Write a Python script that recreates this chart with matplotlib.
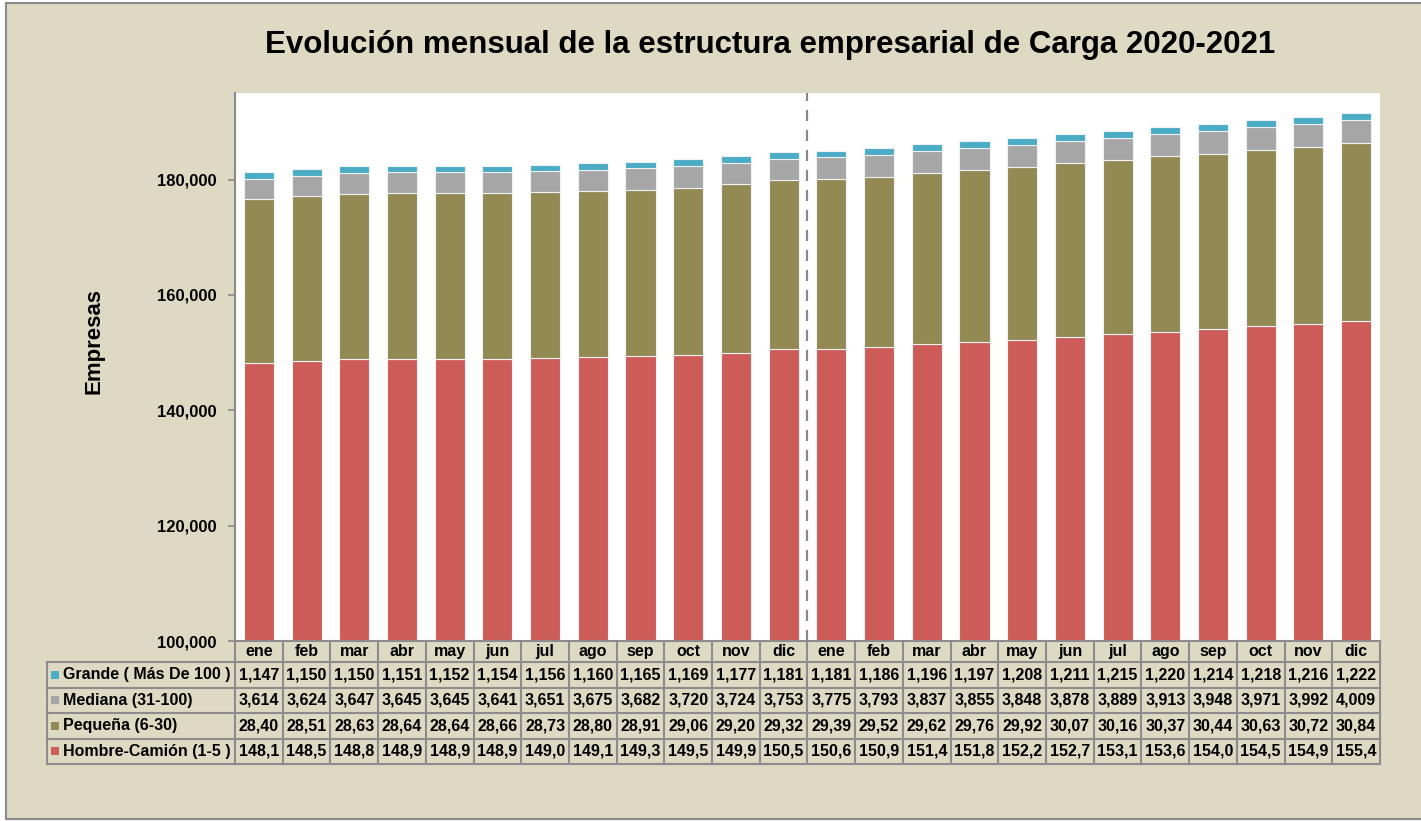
import matplotlib
matplotlib.use("Agg")
import matplotlib.pyplot as plt
from matplotlib.patches import Rectangle
from matplotlib.ticker import FuncFormatter

plt.rcParams['font.family'] = ['Liberation Sans', 'DejaVu Sans']

# data (2020 ene-dic, 2021 ene-dic)
meses = ["ene", "feb", "mar", "abr", "may", "jun", "jul", "ago", "sep", "oct", "nov", "dic"] * 2

grande = [1147, 1150, 1150, 1151, 1152, 1154, 1156, 1160, 1165, 1169, 1177, 1181,
          1181, 1186, 1196, 1197, 1208, 1211, 1215, 1220, 1214, 1218, 1216, 1222]
mediana = [3614, 3624, 3647, 3645, 3645, 3641, 3651, 3675, 3682, 3720, 3724, 3753,
           3775, 3793, 3837, 3855, 3848, 3878, 3889, 3913, 3948, 3971, 3992, 4009]
pequena = [28405, 28515, 28635, 28645, 28645, 28665, 28735, 28805, 28915, 29065, 29205, 29325,
           29395, 29525, 29625, 29765, 29925, 30075, 30165, 30375, 30445, 30635, 30725, 30845]
hombre = [148150, 148550, 148850, 148950, 148950, 148950, 149050, 149150, 149350, 149550, 149950, 150550,
          150650, 150950, 151450, 151850, 152250, 152750, 153150, 153650, 154050, 154550, 154950, 155450]

series_names = ["Grande ( Más De 100 )", "Mediana (31-100)", "Pequeña (6-30)", "Hombre-Camión (1-5 )"]
colors = {"grande": "#4BACC6", "mediana": "#A6A6A6", "pequena": "#938953", "hombre": "#CD5B58"}

BG = "#DDD9C3"
GRID = "#8C8C8C"

W, H = 1421, 821
fig = plt.figure(figsize=(W / 100, H / 100), dpi=100, facecolor="white")

# beige panel with grey border
fig.patches.append(Rectangle((6 / W, 1 - 819 / H), 1.0, (819 - 3) / H, transform=fig.transFigure,
                             facecolor=BG, edgecolor="#8a8a8a", lw=1.5, zorder=-10))

left, right, top, bottom = 235, 1380, 93, 641
ax = fig.add_axes([left / W, 1 - bottom / H, (right - left) / W, (bottom - top) / H])
ax.set_facecolor("white")

x = list(range(len(meses)))
bw = 0.63
edge = dict(edgecolor="#eef2f4", linewidth=0.8)
b1 = [h for h in hombre]
b2 = [h + p for h, p in zip(hombre, pequena)]
b3 = [a + m for a, m in zip(b2, mediana)]
ax.bar(x, hombre, bw, color=colors["hombre"], **edge, zorder=2)
ax.bar(x, pequena, bw, bottom=b1, color=colors["pequena"], **edge, zorder=2)
ax.bar(x, mediana, bw, bottom=b2, color=colors["mediana"], **edge, zorder=2)
ax.bar(x, grande, bw, bottom=b3, color=colors["grande"], **edge, zorder=2)

ax.axvline(11.5, color="#8a8a8a", lw=1.6, ls=(0, (5, 4)), zorder=3)

ax.set_xlim(-0.5, 23.5)
ax.set_ylim(100000, 195000)
ax.set_yticks(range(100000, 180001, 20000))
ax.yaxis.set_major_formatter(FuncFormatter(lambda v, p: f"{int(v):,}"))
ax.tick_params(axis="y", direction="out", length=5, color="#8a8a8a", width=1.2,
               labelsize=12, pad=8)
for lab in ax.get_yticklabels():
    lab.set_fontweight("bold")
ax.set_xticks([])
for s in ["top", "right"]:
    ax.spines[s].set_visible(False)
ax.spines["left"].set_color("#8a8a8a")
ax.spines["left"].set_linewidth(1.5)
ax.spines["bottom"].set_color(GRID)
ax.spines["bottom"].set_linewidth(1.5)

# data table under the chart
tr = ax.get_xaxis_transform()
axh = bottom - top
colw = (right - left) / len(meses)
hdr_h = 21 / axh
row_h = 25.5 / axh
xl = -0.5 - (left - 47) / colw
y_hdr = -hdr_h
kw = dict(transform=tr, clip_on=False, color=GRID, lw=1.5)

# header row (months)
for i in range(len(meses) + 1):
    ax.plot([i - 0.5, i - 0.5], [0, y_hdr], **kw)
for i, m in enumerate(meses):
    ax.text(i, y_hdr / 2, m, transform=tr, ha="center", va="center",
            fontsize=11.5, fontweight="bold")

rows = [
    [f"{v:,}" for v in grande],
    [f"{v:,}" for v in mediana],
    [f"{v:,}"[:5] for v in pequena],
    [f"{v:,}"[:5] for v in hombre],
]
row_cols = [colors["grande"], colors["mediana"], colors["pequena"], colors["hombre"]]

n = len(rows)
y_bot = y_hdr - n * row_h
for r in range(n + 1):
    yy = y_hdr - r * row_h
    ax.plot([xl, 23.5], [yy, yy], **kw)
for i in range(len(meses) + 1):
    ax.plot([i - 0.5, i - 0.5], [y_hdr, y_bot], **kw)
ax.plot([xl, xl], [y_hdr, y_bot], **kw)

sq_w = 8 / colw
sq_h = 8 / axh
for r, (name, vals, c) in enumerate(zip(series_names, rows, row_cols)):
    yc = y_hdr - (r + 0.5) * row_h
    ax.add_patch(Rectangle((xl + 4 / colw, yc - sq_h / 2), sq_w, sq_h, transform=tr,
                           facecolor=c, edgecolor="none", clip_on=False))
    ax.text(xl + 16 / colw, yc, name, transform=tr, ha="left", va="center",
            fontsize=11.5, fontweight="bold")
    for i, v in enumerate(vals):
        ax.text(i, yc, v, transform=tr, ha="center", va="center",
                fontsize=11.5, fontweight="bold")

fig.text(770 / W, 1 - 45 / H, "Evolución mensual de la estructura empresarial de Carga 2020-2021",
         ha="center", va="center", fontsize=22.5, fontweight="bold")
fig.text(94 / W, 1 - 341 / H, "Empresas", rotation=90, ha="center", va="center",
         fontsize=16, fontweight="bold")

fig.savefig("out.png", dpi=100, facecolor=fig.get_facecolor())
